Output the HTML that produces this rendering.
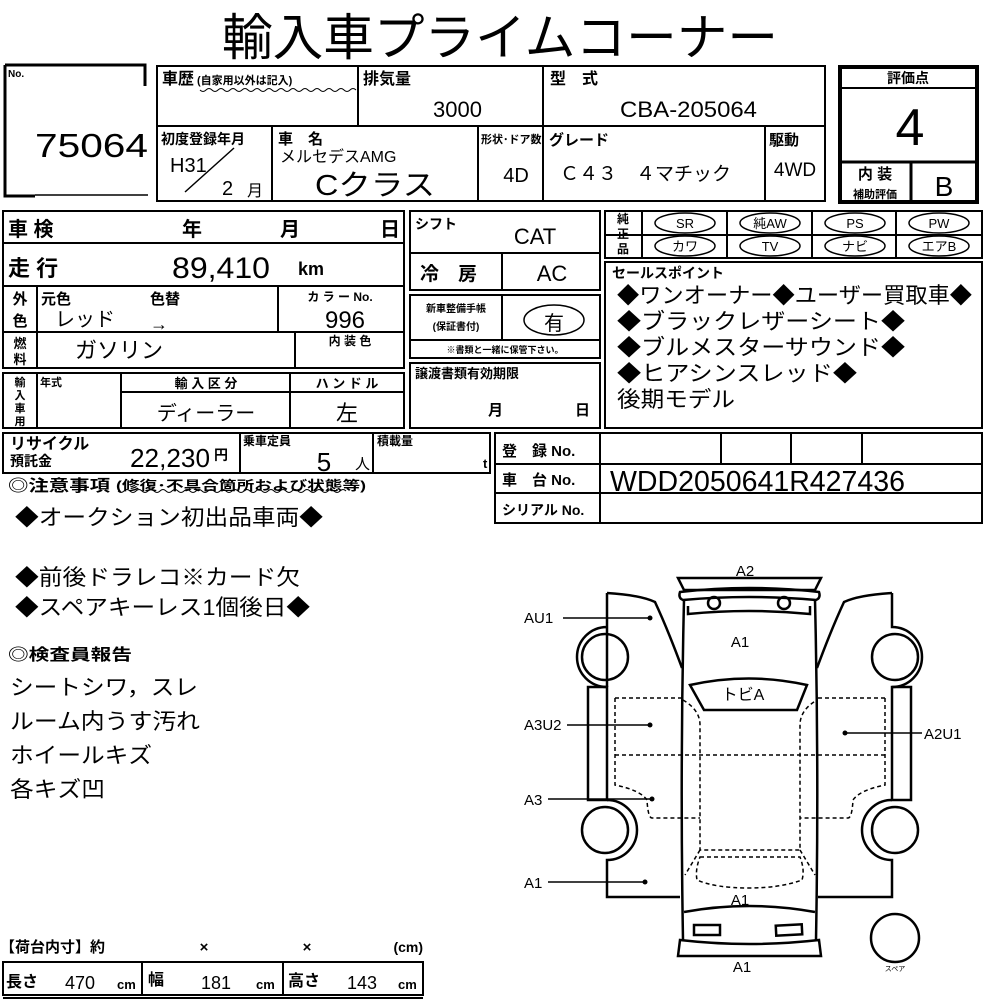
<!DOCTYPE html>
<html><head><meta charset="utf-8"><style>
html,body{margin:0;padding:0;background:#fff;}
svg{display:block;}
text{font-family:"Liberation Sans","Noto Sans CJK JP",sans-serif;fill:#000;}
.b{font-weight:bold;}
.c{text-anchor:middle;}
.r{text-anchor:end;}
</style></head><body>
<svg width="1000" height="1000" viewBox="0 0 1000 1000" xmlns="http://www.w3.org/2000/svg">
<g fill="none" stroke="#000">
<path d="M5 65H145V86" stroke-width="3"/>
<path d="M5 65V196H35" stroke-width="3"/>
<path d="M35 195H148" stroke-width="1.5"/>
<g stroke-width="2">
<rect x="157" y="66" width="668" height="135"/>
<path d="M358 66V126M157 126H825M543 66V201M272 126V201M478 126V201M765 126V201"/>
<path d="M185 192L234 148" stroke-width="1.5"/>
</g>
<rect x="840" y="67" width="137" height="135" stroke-width="4"/>
<path d="M840 88H977" stroke-width="2"/>
<path d="M840 162H977" stroke-width="3"/>
<path d="M911 162V202" stroke-width="3"/>
<g stroke-width="2">
<rect x="3" y="211" width="401" height="157"/>
<path d="M3 243H404M3 286H404M3 332H404M37 286V368M278 286V332M295 332V368"/>
<rect x="3" y="373" width="401" height="55"/>
<path d="M37 373V428M121 373V428M290 373V428M121 392H404"/>
<rect x="3" y="433" width="487" height="40"/>
<path d="M240 433V473M373 433V473"/>
<rect x="410" y="211" width="190" height="42"/>
<rect x="410" y="253" width="190" height="37"/>
<path d="M502 253V290"/>
<rect x="410" y="295" width="190" height="63"/>
<path d="M410 340H600M502 295V340"/>
<rect x="410" y="363" width="190" height="65"/>
<rect x="605" y="211" width="377" height="47"/>
<path d="M605 235H982M642 211V258M727 211V258M812 211V258M896 211V258"/>
<rect x="605" y="262" width="377" height="166"/>
<rect x="495" y="433" width="487" height="90"/>
<path d="M495 464H982M495 493H982M600 433V523M721 433V464M791 433V464M862 433V464"/>
<rect x="3" y="962" width="420" height="33"/>
<path d="M142 962V995M283 962V995M3 998H423"/>
</g>
<g stroke-width="1.5">
<ellipse cx="685" cy="223" rx="30" ry="10"/>
<ellipse cx="770" cy="223" rx="30" ry="10"/>
<ellipse cx="855" cy="223" rx="30" ry="10"/>
<ellipse cx="939" cy="223" rx="30" ry="10"/>
<ellipse cx="685" cy="246" rx="30" ry="10"/>
<ellipse cx="770" cy="246" rx="30" ry="10"/>
<ellipse cx="855" cy="246" rx="30" ry="10"/>
<ellipse cx="939" cy="246" rx="30" ry="10"/>
<ellipse cx="554" cy="320" rx="30" ry="15"/>
<path d="M200 90q3 3 6 0t6 0 6 0 6 0 6 0 6 0 6 0 6 0 6 0 6 0 6 0 6 0 6 0 6 0 6 0 6 0 6 0 6 0 6 0 6 0 6 0 6 0 6 0 6 0 6 0 6 0" stroke-width="1"/>
<path d="M118 491q3 3 6 0t6 0 6 0 6 0 6 0 6 0 6 0 6 0 6 0 6 0 6 0 6 0 6 0 6 0 6 0 6 0 6 0 6 0 6 0 6 0 6 0 6 0 6 0 6 0 6 0 6 0 6 0 6 0 6 0 6 0 6 0 6 0 6 0 6 0 6 0 6 0 6 0 6 0" stroke-width="1"/>
</g>
<g stroke-width="2.5">
<path d="M678 578H821L815 590H684Z"/>
<path d="M680 592Q749 584 819 592Q821 598 816 600Q749 594 683 600Q678 598 680 592Z"/>
<path d="M684 600Q680 770 683 940M815 600Q819 770 816 940"/>
<path d="M688 606V614Q749 608 810 614V606"/>
<circle cx="714" cy="603" r="6"/><circle cx="784" cy="603" r="6"/>
<path d="M690 685Q749 672 807 685L797 710H704Z"/>
<path d="M684 912Q749 900 815 912"/>
<rect x="694" y="925" width="26" height="10"/>
<rect x="776" y="925" width="26" height="10" transform="rotate(-3 789 930)"/>
<path d="M680 940Q749 948 819 940L821 956H678Z"/>
<path d="M607 593Q640 595 655 602Q668 630 682 668"/>
<path d="M607 593V627M607 687V627A30 30 0 0 0 607 687"/>
<circle cx="605" cy="657" r="23"/>
<rect x="588" y="687" width="19" height="113"/>
<path d="M607 800A30 30 0 0 1 607 860V897H680"/>
<circle cx="605" cy="830" r="23"/>
<path d="M892 593Q859 595 844 602Q831 630 817 668"/>
<path d="M892 593V627A30 30 0 0 1 892 687"/>
<circle cx="895" cy="657" r="23"/>
<rect x="892" y="687" width="19" height="113"/>
<path d="M892 800A30 30 0 0 0 892 860V897H818"/>
<circle cx="895" cy="830" r="23"/>
<circle cx="895" cy="938" r="24"/>
</g>
<g stroke-width="1.5" stroke-dasharray="4 3">
<path d="M615 698H683M615 698V785Q640 790 647 800Q648 818 652 818H700"/>
<path d="M885 698H817M885 698V785Q860 790 853 800Q852 818 848 818H800"/>
<path d="M615 755H885"/>
<path d="M683 700Q700 710 700 725V850H800V725Q800 710 817 700"/>
<path d="M700 850L685 875M800 850L815 875"/>
<path d="M700 857H800Q805 870 802 880Q780 888 749 888Q715 888 697 880Q695 870 700 857Z"/>
</g>
<g stroke-width="1.5">
<path d="M563 618H650M567 725H650M548 799H652M548 882H645M845 733H922"/>
</g>
</g>
<g>
<circle cx="650" cy="618" r="2.5"/><circle cx="650" cy="725" r="2.5"/><circle cx="652" cy="799" r="2.5"/><circle cx="645" cy="882" r="2.5"/><circle cx="845" cy="733" r="2.5"/>
</g>
<text x="222" y="55" font-size="50" textLength="556" lengthAdjust="spacingAndGlyphs">輸入車プライムコーナー</text>
<text x="8" y="77" font-size="10" class="b">No.</text>
<text x="35" y="157" font-size="33" textLength="113" lengthAdjust="spacingAndGlyphs">75064</text>
<text x="162" y="84" font-size="16" class="b">車歴</text>
<text x="197" y="84" font-size="11" class="b">(自家用以外は記入)</text>
<text x="363" y="84" font-size="16" class="b">排気量</text>
<text x="482" y="117" class="r" font-size="22">3000</text>
<text x="550" y="84" font-size="16" class="b">型　式</text>
<text x="620" y="117" font-size="22" textLength="137" lengthAdjust="spacingAndGlyphs">CBA-205064</text>
<text x="161" y="144" font-size="14" class="b">初度登録年月</text>
<text x="170" y="172" font-size="20">H31</text>
<text x="222" y="195" font-size="20">2</text>
<text x="247" y="196" font-size="16">月</text>
<text x="278" y="144" font-size="15" class="b">車　名</text>
<text x="280" y="162" font-size="16">メルセデスAMG</text>
<text x="315" y="195" font-size="29" textLength="120" lengthAdjust="spacingAndGlyphs">Cクラス</text>
<text x="481" y="143" font-size="11" class="b">形状･ドア数</text>
<text x="516" y="182" class="c" font-size="20">4D</text>
<text x="549" y="145" font-size="15" class="b">グレード</text>
<text x="560" y="180" font-size="19">Ｃ４３　４マチック</text>
<text x="769" y="145" font-size="15" class="b">駆動</text>
<text x="795" y="176" class="c" font-size="19">4WD</text>
<text x="908" y="83" class="c b" font-size="14">評価点</text>
<text x="910" y="145" class="c" font-size="52">4</text>
<text x="875" y="179" class="c b" font-size="15">内 装</text>
<text x="875" y="198" class="c b" font-size="11">補助評価</text>
<text x="944" y="196" class="c" font-size="28">B</text>
<text x="8" y="236" font-size="20" class="b">車 検</text>
<text x="192" y="236" class="c b" font-size="20">年</text>
<text x="290" y="236" class="c b" font-size="20">月</text>
<text x="390" y="236" class="c b" font-size="20">日</text>
<text x="8" y="276" font-size="22" class="b">走 行</text>
<text x="172" y="278" font-size="30" textLength="98" lengthAdjust="spacingAndGlyphs">89,410</text>
<text x="298" y="275" font-size="18" class="b">km</text>
<text x="20" y="304" class="c b" font-size="15">外</text>
<text x="20" y="326" class="c b" font-size="15">色</text>
<text x="41" y="304" font-size="15" class="b">元色</text>
<text x="150" y="304" font-size="15" class="b">色替</text>
<text x="55" y="326" font-size="20">レッド</text>
<text x="150" y="330" font-size="18">→</text>
<text x="340" y="301" class="c b" font-size="12">カ ラ ー No.</text>
<text x="345" y="328" class="c" font-size="24">996</text>
<text x="20" y="348" class="c b" font-size="13">燃</text>
<text x="20" y="364" class="c b" font-size="13">料</text>
<text x="75" y="358" font-size="22">ガソリン</text>
<text x="350" y="345" class="c b" font-size="12">内 装 色</text>
<text x="20" y="386" class="c b" font-size="11">輸</text>
<text x="20" y="399" class="c b" font-size="11">入</text>
<text x="20" y="412" class="c b" font-size="11">車</text>
<text x="20" y="425" class="c b" font-size="11">用</text>
<text x="40" y="386" font-size="11" class="b">年式</text>
<text x="206" y="388" class="c b" font-size="13">輸 入 区 分</text>
<text x="347" y="388" class="c b" font-size="13">ハ ン ド ル</text>
<text x="206" y="420" class="c" font-size="20">ディーラー</text>
<text x="347" y="421" class="c" font-size="22">左</text>
<text x="10" y="449" font-size="16" class="b">リサイクル</text>
<text x="10" y="466" font-size="14" class="b">預託金</text>
<text x="130" y="467" font-size="26" textLength="80" lengthAdjust="spacingAndGlyphs">22,230</text>
<text x="214" y="460" font-size="14" class="b">円</text>
<text x="243" y="445" font-size="12" class="b">乗車定員</text>
<text x="324" y="471" class="c" font-size="26">5</text>
<text x="355" y="469" font-size="15">人</text>
<text x="377" y="445" font-size="12" class="b">積載量</text>
<text x="483" y="468" font-size="13" class="b">t</text>
<text x="415" y="229" font-size="14" class="b">シフト</text>
<text x="535" y="244" class="c" font-size="22">CAT</text>
<text x="420" y="280" font-size="19" class="b">冷　房</text>
<text x="552" y="281" class="c" font-size="22">AC</text>
<text x="456" y="312" class="c b" font-size="10">新車整備手帳</text>
<text x="456" y="330" class="c b" font-size="10">(保証書付)</text>
<text x="554" y="330" class="c" font-size="20">有</text>
<text x="505" y="353" class="c b" font-size="9">※書類と一緒に保管下さい。</text>
<text x="415" y="378" font-size="13" class="b">譲渡書類有効期限</text>
<text x="488" y="415" font-size="15" class="b">月</text>
<text x="575" y="415" font-size="15" class="b">日</text>
<text x="623" y="223" class="c b" font-size="12">純</text>
<text x="623" y="238" class="c b" font-size="12">正</text>
<text x="623" y="253" class="c b" font-size="12">品</text>
<g font-size="13" class="c">
<text x="685" y="228">SR</text><text x="770" y="228">純AW</text><text x="855" y="228">PS</text><text x="939" y="228">PW</text>
<text x="685" y="251">カワ</text><text x="770" y="251">TV</text><text x="855" y="251">ナビ</text><text x="939" y="251">エアB</text>
</g>
<text x="612" y="278" font-size="14" class="b">セールスポイント</text>
<g font-size="22">
<text x="617" y="303" textLength="355" lengthAdjust="spacingAndGlyphs">◆ワンオーナー◆ユーザー買取車◆</text>
<text x="617" y="329" textLength="288" lengthAdjust="spacingAndGlyphs">◆ブラックレザーシート◆</text>
<text x="617" y="355" textLength="288" lengthAdjust="spacingAndGlyphs">◆ブルメスターサウンド◆</text>
<text x="617" y="381" textLength="240" lengthAdjust="spacingAndGlyphs">◆ヒアシンスレッド◆</text>
<text x="617" y="407" textLength="118" lengthAdjust="spacingAndGlyphs">後期モデル</text>
</g>
<text x="502" y="456" font-size="15" class="b">登　録 No.</text>
<text x="502" y="485" font-size="15" class="b">車　台 No.</text>
<text x="502" y="515" font-size="14" class="b">シリアル No.</text>
<text x="610" y="491" font-size="29" textLength="295" lengthAdjust="spacingAndGlyphs">WDD2050641R427436</text>
<text x="8" y="491" font-size="16" class="b" textLength="102" lengthAdjust="spacingAndGlyphs">◎注意事項</text>
<text x="116" y="490" font-size="13" class="b" textLength="250" lengthAdjust="spacingAndGlyphs">(修復･不具合箇所および状態等)</text>
<g font-size="22">
<text x="15" y="525" textLength="308" lengthAdjust="spacingAndGlyphs">◆オークション初出品車両◆</text>
<text x="15" y="585" textLength="285" lengthAdjust="spacingAndGlyphs">◆前後ドラレコ※カード欠</text>
<text x="15" y="615" textLength="295" lengthAdjust="spacingAndGlyphs">◆スペアキーレス1個後日◆</text>
</g>
<text x="8" y="660" font-size="16" class="b" textLength="124" lengthAdjust="spacingAndGlyphs">◎検査員報告</text>
<g font-size="22">
<text x="10" y="695" textLength="188" lengthAdjust="spacingAndGlyphs">シートシワ，スレ</text>
<text x="10" y="729" textLength="190" lengthAdjust="spacingAndGlyphs">ルーム内うす汚れ</text>
<text x="10" y="763" textLength="142" lengthAdjust="spacingAndGlyphs">ホイールキズ</text>
<text x="10" y="797" textLength="95" lengthAdjust="spacingAndGlyphs">各キズ凹</text>
</g>
<text x="0" y="952" font-size="15" class="b">【荷台内寸】約</text>
<text x="204" y="952" class="c b" font-size="15">×</text>
<text x="307" y="952" class="c b" font-size="15">×</text>
<text x="423" y="952" class="r b" font-size="14">(cm)</text>
<text x="6" y="987" font-size="16" class="b">長さ</text>
<text x="80" y="989" class="c" font-size="18">470</text>
<text x="117" y="989" font-size="13" class="b">cm</text>
<text x="148" y="985" font-size="16" class="b">幅</text>
<text x="216" y="989" class="c" font-size="18">181</text>
<text x="256" y="989" font-size="13" class="b">cm</text>
<text x="288" y="986" font-size="16" class="b">高さ</text>
<text x="362" y="989" class="c" font-size="18">143</text>
<text x="398" y="989" font-size="13" class="b">cm</text>
<g font-size="15">
<text x="745" y="576" class="c">A2</text>
<text x="740" y="647" class="c">A1</text>
<text x="743" y="700" class="c" font-size="16">トビA</text>
<text x="740" y="905" class="c">A1</text>
<text x="742" y="972" class="c">A1</text>
<text x="524" y="623">AU1</text>
<text x="524" y="730">A3U2</text>
<text x="524" y="805">A3</text>
<text x="524" y="888">A1</text>
<text x="924" y="739">A2U1</text>
</g>
<text x="895" y="971" class="c" font-size="7">スペア</text>
</svg>
</body></html>
